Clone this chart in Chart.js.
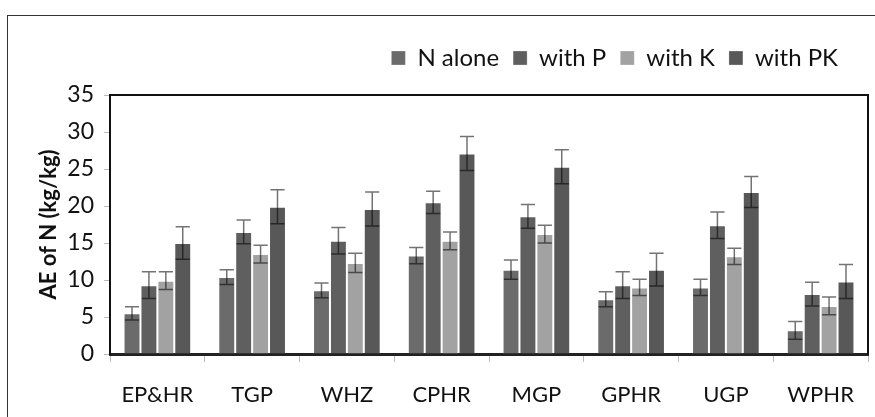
<!DOCTYPE html>
<html>
<head>
<meta charset="utf-8">
<script src="https://cdn.jsdelivr.net/npm/chart.js@4.4.0/dist/chart.umd.min.js"></script>
<style>
  html, body { margin: 0; padding: 0; background: #fff; }
  #wrap { position: relative; width: 875px; height: 417px; overflow: hidden; }
  #frame { position: absolute; left: 7px; top: 15px; width: 900px; height: 450px;
           border-left: 1.5px solid #333; border-top: 1.5px solid #333; box-sizing: border-box; }
  canvas { position: absolute; left: 0; top: 0; }
</style>
</head>
<body>
<div id="wrap">
  <div id="frame"></div>
  <canvas id="c" width="875" height="417"></canvas>
</div>
<script>
const categories = ['EP&HR', 'TGP', 'WHZ', 'CPHR', 'MGP', 'GPHR', 'UGP', 'WPHR'];
const seriesNames = ['N alone', 'with P', 'with K', 'with PK'];
const nAlone = [5.5, 10.4, 8.6, 13.3, 11.4, 7.4, 9.0, 3.2];
const withP  = [9.3, 16.5, 15.3, 20.5, 18.6, 9.3, 17.4, 8.1];
const withK  = [9.9, 13.5, 12.3, 15.3, 16.2, 9.0, 13.2, 6.5];
const withPK = [15.0, 19.9, 19.6, 27.1, 25.3, 11.4, 21.9, 9.8];
const errNAlone = [0.9, 1.0, 1.0, 1.1, 1.3, 1.0, 1.1, 1.2];
const errWithP  = [1.8, 1.6, 1.8, 1.5, 1.6, 1.8, 1.8, 1.6];
const errWithK  = [1.2, 1.2, 1.3, 1.2, 1.2, 1.1, 1.1, 1.2];
const errWithPK = [2.2, 2.3, 2.3, 2.3, 2.3, 2.2, 2.1, 2.3];
const yTicks = [0, 5, 10, 15, 20, 25, 30, 35];
const yTitle = 'AE of N (kg/kg)';

const colors = ['#6b6b6b', '#5f5f5f', '#a2a2a2', '#585858'];
const values = [nAlone, withP, withK, withPK];
const errors = [errNAlone, errWithP, errWithK, errWithPK];

const FONT = 'Lato, "Open Sans", sans-serif';

const errorBars = {
  id: 'errorBars',
  afterDatasetsDraw(chart) {
    const ctx = chart.ctx;
    const y = chart.scales.y;
    ctx.save();
    ctx.strokeStyle = 'rgba(0,0,0,0.55)';
    ctx.lineWidth = 1.5;
    chart.data.datasets.forEach((ds, i) => {
      const meta = chart.getDatasetMeta(i);
      meta.data.forEach((el, j) => {
        const v = ds.data[j], e = ds.errors[j];
        const x = el.x;
        const yt = y.getPixelForValue(v + e);
        const yb = y.getPixelForValue(v - e);
        const half = el.width * 0.42;
        ctx.beginPath();
        ctx.moveTo(x, yt); ctx.lineTo(x, yb);
        ctx.moveTo(x - half, yt); ctx.lineTo(x + half, yt);
        ctx.moveTo(x - half, yb); ctx.lineTo(x + half, yb);
        ctx.stroke();
      });
    });
    ctx.restore();
  }
};

const plotFrame = {
  id: 'plotFrame',
  afterLayout(chart) {
    const lg = chart.legend;
    if (lg) { lg.top -= 15; lg.bottom -= 15; lg.right -= 16; }
  },
  afterDraw(chart) {
    const a = chart.chartArea;
    const ctx = chart.ctx;
    ctx.save();
    ctx.strokeStyle = '#111';
    ctx.lineWidth = 2;
    ctx.beginPath();
    ctx.moveTo(a.left, a.top); ctx.lineTo(a.right, a.top); ctx.lineTo(a.right, a.bottom);
    ctx.stroke();
    ctx.restore();
  }
};

new Chart(document.getElementById('c'), {
  type: 'bar',
  data: {
    labels: categories,
    datasets: seriesNames.map((n, i) => ({
      label: n,
      data: values[i],
      errors: errors[i],
      backgroundColor: colors[i],
      borderColor: 'rgba(255,255,255,0.25)',
      borderWidth: 1,
      categoryPercentage: 0.714,
      barPercentage: 1.0
    }))
  },
  options: {
    responsive: false,
    animation: false,
    devicePixelRatio: 1,
    layout: { padding: { left: 36, right: 7, top: 47, bottom: 0 } },
    plugins: {
      legend: {
        position: 'top',
        align: 'end',
        labels: {
          font: { family: FONT, size: 24 },
          color: '#111',
          boxWidth: 14,
          boxHeight: 14,
          padding: 14
        }
      },
      tooltip: { enabled: false }
    },
    scales: {
      x: {
        afterFit: s => { s.height = 63; },
        grid: { display: true, drawOnChartArea: false, drawTicks: true, tickLength: 8, color: '#bbb', offset: true },
        border: { display: true, color: '#222', width: 3 },
        ticks: { font: { family: FONT, size: 22 }, color: '#111', padding: 20 }
      },
      y: {
        min: 0, max: 35,
        afterFit: s => { s.width = 110 - 36; },
        afterBuildTicks: s => { s.ticks = yTicks.map(v => ({ value: v })); },
        grid: { display: true, drawOnChartArea: false, drawTicks: true, tickLength: 6, color: '#bbb' },
        border: { display: true, color: '#111', width: 2 },
        ticks: { font: { family: FONT, size: 23 }, color: '#111', padding: 10 },
        title: { display: true, text: yTitle, font: { family: FONT, size: 22, weight: 'bold' }, color: '#111', padding: { top: 0, bottom: 0 } }
      }
    }
  },
  plugins: [errorBars, plotFrame]
});
</script>
</body>
</html>
